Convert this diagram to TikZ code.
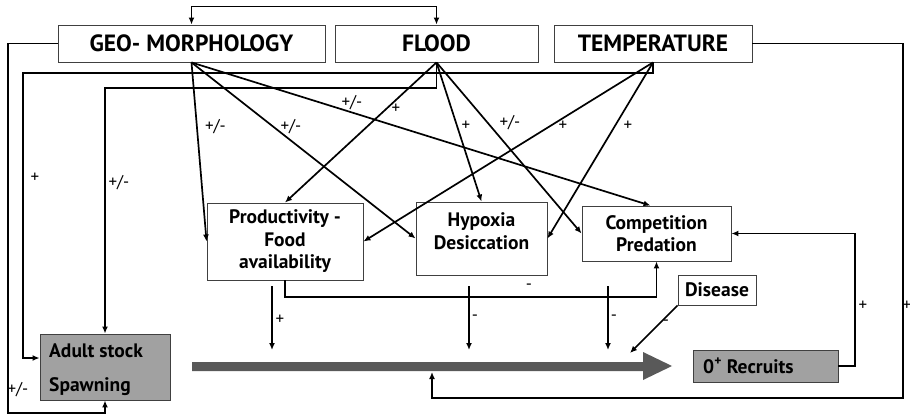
\documentclass[tikz,border=0pt]{standalone}
\usepackage{fontspec}
\setmainfont{PT Sans}
\usetikzlibrary{arrows.meta,calc}
\begin{document}
\begin{tikzpicture}[x=1pt,y=-1pt,
  box/.style={draw=black!75, line width=0.9pt, fill=white, inner sep=0pt,
    font=\bfseries\fontsize{19.5}{22.5}\selectfont, align=center},
  topbox/.style={box, font=\bfseries\fontsize{23.5}{26}\selectfont},
  graybox/.style={box, fill=black!37},
  txt/.style={inner sep=0pt, font=\bfseries\fontsize{19.5}{22.5}\selectfont, align=center},
  arr/.style={line width=1.7pt, -{Latex[length=7pt,width=6pt]}},
  biarr/.style={line width=1.7pt, {Latex[length=7pt,width=6pt]}-{Latex[length=7pt,width=6pt]}},
  lbl/.style={inner sep=0pt, font=\fontsize{17}{18}\selectfont},
  flowcol/.style={fill=black!65}]
\useasboundingbox (0,0) rectangle (910,417);

% top boxes
\node[topbox, minimum width=267, minimum height=37] (geo) at (191.5,43.5) {GEO- MORPHOLOGY};
\node[topbox, minimum width=203, minimum height=37] (flood) at (436.5,43.5) {FLOOD};
\node[topbox, minimum width=198, minimum height=37] (temp) at (653,43.5) {TEMPERATURE};

% middle boxes
\node[box, minimum width=156, minimum height=77] (prod) at (285,241.5) {Productivity -\\Food\\availability};
\node[box, minimum width=131, minimum height=73] (hyp) at (481.5,238.5) {};
\node[txt] (hyptxt) at (481.5,231) {Hypoxia\\Desiccation};
\node[box, minimum width=149, minimum height=55] (comp) at (656.5,233.5) {Competition\\Predation};
\node[box, minimum width=78, minimum height=30] (dis) at (717,290) {Disease};

% bottom boxes
\node[graybox, minimum width=130, minimum height=66] (adult) at (105,367) {};
\node[txt, anchor=west, align=left] (adulttxt) at (49,369.5) {Adult stock\\[11pt]Spawning};
\node[graybox, minimum width=145, minimum height=32] (rec) at (765.5,366) {};
\node[txt, anchor=west] (rectxt) at (703,366) {0\textsuperscript{+} Recruits};

% big flow arrow
\fill[flowcol] (192,362) -- (643,362) -- (643,352) -- (672,366) -- (643,380) -- (643,371) -- (192,371) -- cycle;
\coordinate (fa) at (272,350);
\coordinate (fb) at (469,350);
\coordinate (fc) at (608,350);
\coordinate (fd) at (630,353);
\coordinate (fe) at (432,372);
\coordinate (sa) at (272,286);
\coordinate (sb) at (469,286);
\coordinate (sc) at (608,286);

% top connector
\draw[biarr] (geo.north) -- ++(0,-18) -| (flood.north);

% outer loops to adult
\draw[arr] (geo.west) -| (8,413) -| (adult.south);
\draw[arr] (temp.south) |- (23,73) |- ([yshift=9pt]adult.west);
\draw[arr] (flood.south) |- (105,88) -- (adult.north);

% from geo
\draw[arr] (geo.south) -- (prod.west);
\draw[arr] (geo.south) -- (hyp.west);
\draw[arr] (geo.south) -- ([xshift=-6pt]comp.north);
% from flood
\draw[arr] (flood.south) -- (prod.north);
\draw[arr] (flood.south) -- (hyp.north);
\draw[arr] (flood.south) -- (comp.west);
% from temperature
\draw[arr] (temp.south) -- (prod.east);
\draw[arr] (temp.south) -- (hyp.east);

% lower connectors
\draw[arr] (prod.south) |- (656.5,297) -- (comp.south);
\draw[arr] (sa) -- (fa);
\draw[arr] (sb) -- (fb);
\draw[arr] (sc) -- (fc);
\draw[arr] (dis.south west) -- (fd);
\draw[arr] (rec.east) -- (855,366) |- (comp.east);
\draw[arr] (temp.east) -| (903,398) -| (fe);

% labels
\node[lbl] (l1) at (215.5,127) {+/-};
\node[lbl] (l2) at (291,127) {+/-};
\node[lbl] (l3) at (352,103) {+/-};
\node[lbl] (l4) at (396,109) {+};
\node[lbl] (l5) at (466,126) {+};
\node[lbl] (l6) at (510,123) {+/-};
\node[lbl] (l7) at (563,126) {+};
\node[lbl] (l8) at (628,126) {+};
\node[lbl] (l9) at (35,178) {+};
\node[lbl] (l10) at (119,183) {+/-};
\node[lbl] (l11) at (18,390) {+/-};
\node[lbl] (l12) at (280,320) {+};
\node[lbl] (l13) at (475,318) {-};
\node[lbl] (l14) at (614,318) {-};
\node[lbl] (l15) at (529,287) {-};
\node[lbl] (l16) at (666,323) {-};
\node[lbl] (l17) at (863,306) {+};
\node[lbl] (l18) at (907,306) {+};
\end{tikzpicture}
\end{document}
